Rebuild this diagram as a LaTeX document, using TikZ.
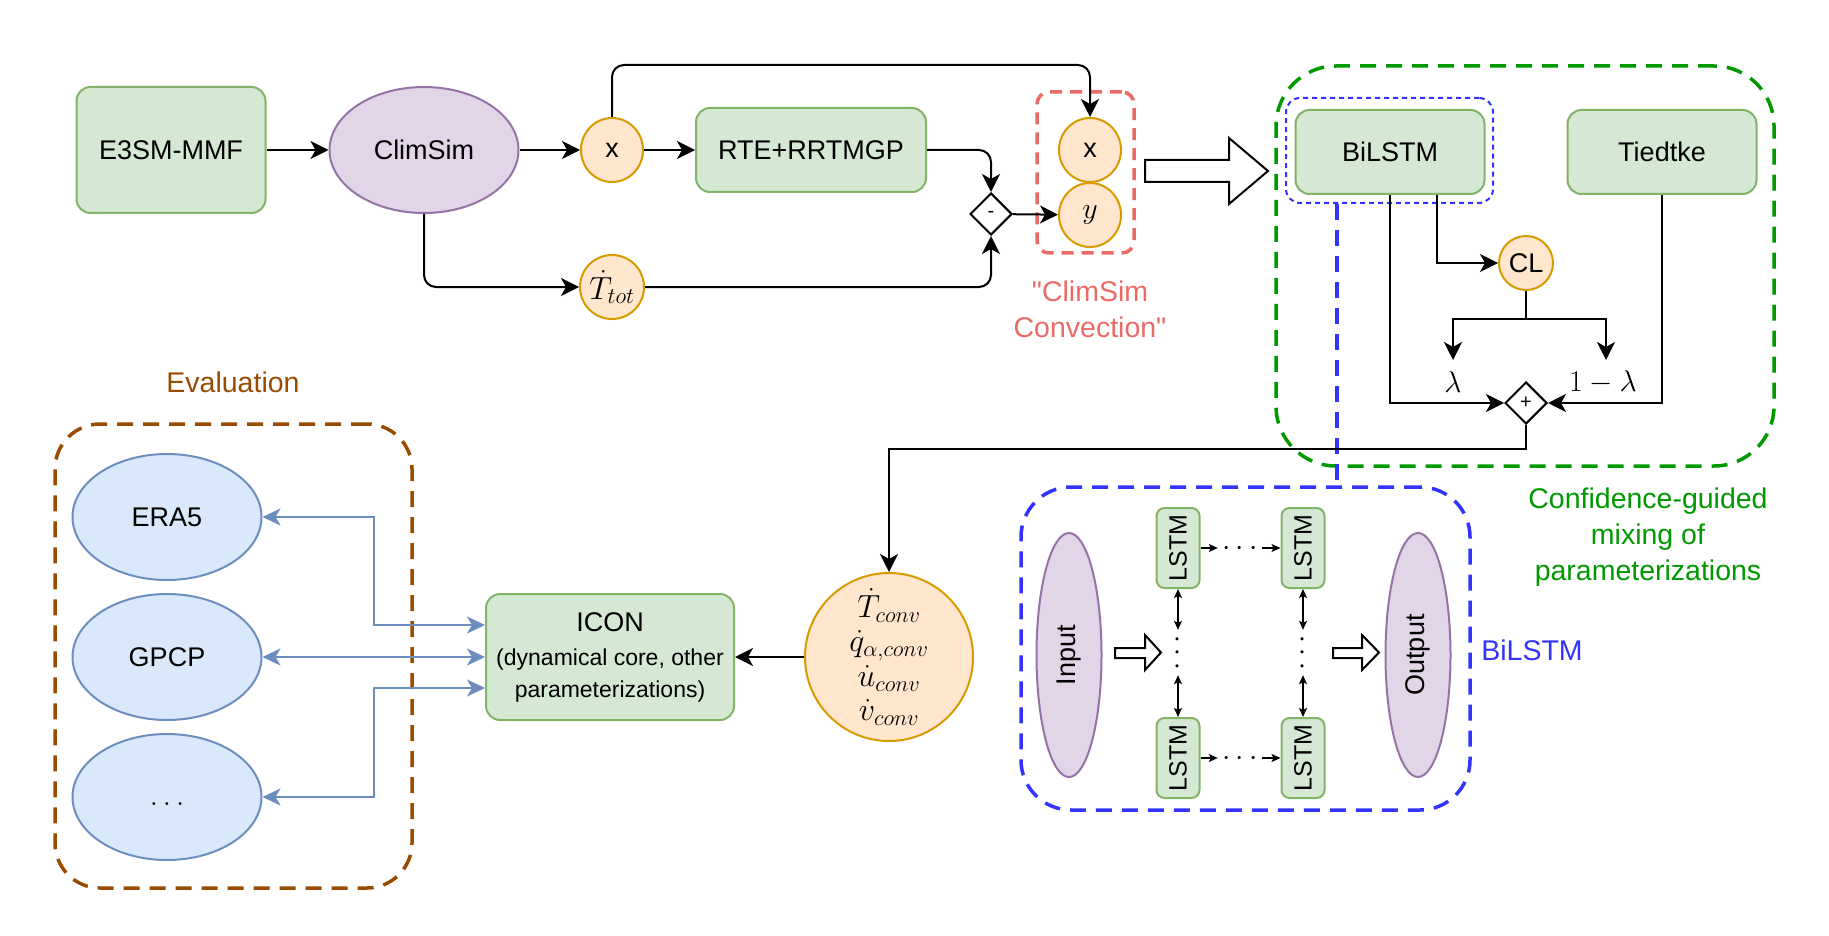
\RequirePackage{fix-cm}
\documentclass[tikz,border=0pt]{standalone}
\usepackage[no-math]{fontspec}
\setmainfont{Liberation Sans}
\usepackage{graphicx}
\usetikzlibrary{shapes.geometric,arrows.meta,calc}
\definecolor{gfill}{HTML}{D5E8D4}
\definecolor{gline}{HTML}{82B366}
\definecolor{pfill}{HTML}{E1D5E7}
\definecolor{pline}{HTML}{9673A6}
\definecolor{ofill}{HTML}{FFE6CC}
\definecolor{oline}{HTML}{D79B00}
\definecolor{bfill}{HTML}{DAE8FC}
\definecolor{bline}{HTML}{6C8EBF}
\definecolor{redd}{HTML}{EA6B66}
\definecolor{greend}{HTML}{009900}
\definecolor{blued}{HTML}{3333FF}
\definecolor{brownd}{HTML}{994C00}
\newcommand\fmain{\fontsize{27}{32}\selectfont}
\newcommand\fann{\fontsize{28.5}{36}\selectfont}
\newcommand\fsubt{\fontsize{23}{29}\selectfont}
\newcommand\fmath{\fontsize{30}{34}\selectfont}
\newcommand\sq{\XeTeXglyph\XeTeXcharglyph34\relax}
\begin{document}
\begin{tikzpicture}[x=1pt,y=-1pt,
  gbox/.style={draw=gline, fill=gfill, line width=2pt, rounded corners=14pt, font=\fmain, inner sep=0pt},
  pell/.style={ellipse, draw=pline, fill=pfill, line width=2pt, inner sep=0pt, font=\fmain},
  oell/.style={ellipse, draw=oline, fill=ofill, line width=2pt, inner sep=0pt, font=\fmain},
  bell/.style={ellipse, draw=bline, fill=bfill, line width=2pt, inner sep=0pt, font=\fmain, minimum width=189pt, minimum height=126pt},
  conn/.style={draw, line width=2pt, -{Stealth[length=18pt,width=18pt,inset=5pt]}},
  plainline/.style={draw, line width=2pt},
  barrow/.style={draw=bline, line width=2pt, {Stealth[length=18pt,width=17pt,inset=5pt]}-{Stealth[length=18pt,width=17pt,inset=5pt]}},
  lstmarr/.style={draw, line width=1.2pt, -{Stealth[length=9pt,width=8pt,inset=2pt]}},
  lstmarrb/.style={draw, line width=1.2pt, {Stealth[length=9pt,width=8pt,inset=2pt]}-{Stealth[length=9pt,width=8pt,inset=2pt]}},
  mix/.style={diamond, draw, line width=2pt, fill=white, minimum width=42pt, minimum height=42pt, inner sep=0pt, font=\fontsize{20}{24}\selectfont},
  hollow/.style={draw, line width=2pt, fill=white, line join=miter},
  frame/.style={rectangle, line width=3.5pt, dash pattern=on 16pt off 10pt, inner sep=0pt},
  smallc/.style={oell, minimum width=62pt, minimum height=64pt}
]
\useasboundingbox (0,0) rectangle (1829,936);

% ---------- frames ----------
\node[frame, draw=redd, rounded corners=12pt, dash pattern=on 12pt off 8pt, minimum width=97pt, minimum height=161pt] (cframe) at (1085.5,172.5) {};
\node[frame, draw=greend, rounded corners=60pt, minimum width=498pt, minimum height=400pt] (gframe) at (1525,266) {};
\node[frame, draw=blued, line width=2pt, dash pattern=on 5pt off 4pt, rounded corners=14pt, minimum width=207pt, minimum height=105pt] (bdot) at (1389.5,150.5) {};
\node[frame, draw=blued, rounded corners=50pt, minimum width=449pt, minimum height=323pt] (bbig) at (1245.5,648.5) {};
\node[frame, draw=brownd, rounded corners=45pt, minimum width=357pt, minimum height=464pt] (eframe) at (233.5,656) {};
\coordinate (vx) at (1337,0);
\draw[blued, line width=3.5pt, dash pattern=on 16pt off 10pt] (bdot.south -| vx) -- (bbig.north -| vx);

% ---------- top row ----------
\node[gbox, minimum width=189pt, minimum height=126pt] (e3sm) at (171,150) {E3SM-MMF};
\node[pell, minimum width=189pt, minimum height=126pt] (climsim) at (424,150) {ClimSim};
\node[smallc] (xa) at (612,150) {x};
\node[gbox, minimum width=230pt, minimum height=84pt] (rte) at (811,150) {RTE+RRTMGP};
\node[smallc] (xb) at (1090,150) {x};
\node[smallc, font=\fmath] (yb) at (1090,215) {$y$};
\node[mix] (minus) at (991,214) {-};
\node[smallc, font=\fontsize{32}{36}\selectfont] (ttot) at (612,287) {$\dot T_{tot}$};
\node[text=redd, font=\fann, align=center] (cslabel) at (1090,309) {\sq ClimSim\\Convection\sq};

\draw[hollow] (1145,160) -- (1229,160) -- (1229,138) -- (1268,171) -- (1229,204) -- (1229,182) -- (1145,182) -- cycle;

% ---------- mixing ----------
\node[gbox, minimum width=189pt, minimum height=84pt] (bilstm) at (1390,152) {BiLSTM};
\node[gbox, minimum width=189pt, minimum height=84pt] (tiedtke) at (1662,152) {Tiedtke};
\node[oell, minimum width=54pt, minimum height=54pt] (cl) at (1526,263) {CL};
\node[mix] (plus) at (1526,403) {+};
\coordinate (split) at (1526,319);
\coordinate (lamL) at (1453,360);
\coordinate (lamR) at (1606,360);
\node[font=\fmath, inner sep=0pt] (lam) at (1453,382) {$\lambda$};
\node[font=\fmath, inner sep=0pt] (oml) at (1603,382) {$1-\lambda$};
\node[text=greend, font=\fann, align=center] (conflabel) at (1648,537) {Confidence-guided\\mixing of\\parameterizations};

% ---------- BiLSTM detail ----------
\node[pell, minimum width=65pt, minimum height=244pt] (inp) at (1069,655) {\rotatebox{90}{Input}};
\node[pell, minimum width=65pt, minimum height=244pt] (outp) at (1418,655) {\rotatebox{90}{Output}};
\node[gbox, rounded corners=8pt, minimum width=43pt, minimum height=80pt, font=\fontsize{25}{30}\selectfont] (ltl) at (1178,548) {\rotatebox{90}{LSTM}};
\node[gbox, rounded corners=8pt, minimum width=43pt, minimum height=80pt, font=\fontsize{25}{30}\selectfont] (ltr) at (1303,548) {\rotatebox{90}{LSTM}};
\node[gbox, rounded corners=8pt, minimum width=43pt, minimum height=80pt, font=\fontsize{25}{30}\selectfont] (lbl) at (1178,758) {\rotatebox{90}{LSTM}};
\node[gbox, rounded corners=8pt, minimum width=43pt, minimum height=80pt, font=\fontsize{25}{30}\selectfont] (lbr) at (1303,758) {\rotatebox{90}{LSTM}};
\node[inner sep=0pt, minimum width=44pt, text height=15pt, text depth=0pt, font=\fmath] (htop) at (1240,548) {$\cdots$};
\node[inner sep=0pt, minimum width=44pt, text height=15pt, text depth=0pt, font=\fmath] (hbot) at (1240,758) {$\cdots$};
\node[inner sep=0pt, minimum height=45pt, font=\fmath] (vdl) at (1178,652.5) {\rotatebox{90}{$\cdots$}};
\node[inner sep=0pt, minimum height=45pt, font=\fmath] (vdr) at (1303,652.5) {\rotatebox{90}{$\cdots$}};
\draw[hollow] (1115,648) -- (1145,648) -- (1145,635) -- (1161,652.5) -- (1145,670) -- (1145,658) -- (1115,658) -- cycle;
\draw[hollow] (1333,648) -- (1362,648) -- (1362,635) -- (1379,652.5) -- (1362,670) -- (1362,658) -- (1333,658) -- cycle;
\node[text=blued, font=\fann] (bllabel) at (1532,650) {BiLSTM};

% ---------- ICON / conv ----------
\node[circle, draw=oline, fill=ofill, line width=2pt, inner sep=0pt, minimum size=168pt, font=\fontsize{32}{34.5}\selectfont, align=center] (conv) at (889,657) {$\dot T_{conv}$\\$\dot q_{\alpha,conv}$\\$\dot u_{conv}$\\$\dot v_{conv}$};
\node[gbox, minimum width=248pt, minimum height=126pt, align=center] (icon) at (610,657) {ICON\\[2pt]\fsubt (dynamical core, other\\\fsubt parameterizations)};
\coordinate (turn) at (889,449);

% ---------- evaluation ----------
\node[text=brownd, font=\fann] (evlabel) at (233,382) {Evaluation};
\node[bell] (era5) at (167,517) {ERA5};
\node[bell] (gpcp) at (167,657) {GPCP};
\node[bell, font=\fmath, text height=16pt, text depth=0pt] (etc) at (167,797) {$\ldots$};
\coordinate (jx) at (374,0);

% ---------- connectors ----------
\draw[conn] (e3sm) -- (climsim);
\draw[conn] (climsim) -- (xa);
\draw[conn] (xa) -- (rte);
\draw[conn, rounded corners=12pt] (xa.north) -- ++(0,-52) -| (xb.north);
\draw[conn, rounded corners=12pt] (rte.east) -| (minus.north);
\draw[conn] (minus) -- (yb);
\draw[conn, rounded corners=12pt] (climsim.south) |- (ttot.west);
\draw[conn, rounded corners=12pt] (ttot.east) -| (minus.south);

\draw[conn] ($(bilstm.south)+(47,0)$) |- (cl.west);
\draw[conn] (bilstm.south) |- (plus.west);
\draw[conn] (tiedtke.south) |- (plus.east);
\draw[plainline] (cl.south) -- (split);
\draw[conn] (split) -| (lamL);
\draw[conn] (split) -| (lamR);
\draw[conn] (plus.south) |- (turn) -- (conv.north);
\draw[conn] (conv) -- (icon);

\draw[lstmarr] (ltl) -- (htop);
\draw[lstmarr] (htop) -- (ltr);
\draw[lstmarr] (lbl) -- (hbot);
\draw[lstmarr] (hbot) -- (lbr);
\draw[lstmarrb] (ltl) -- (vdl);
\draw[lstmarrb] (vdl) -- (lbl);
\draw[lstmarrb] (ltr) -- (vdr);
\draw[lstmarrb] (vdr) -- (lbr);

\draw[barrow] (era5.east) -- (era5.east -| jx) |- ($(icon.west)+(0,-32)$);
\draw[barrow] (gpcp) -- (icon);
\draw[barrow] (etc.east) -- (etc.east -| jx) |- ($(icon.west)+(0,31)$);
\end{tikzpicture}
\end{document}
